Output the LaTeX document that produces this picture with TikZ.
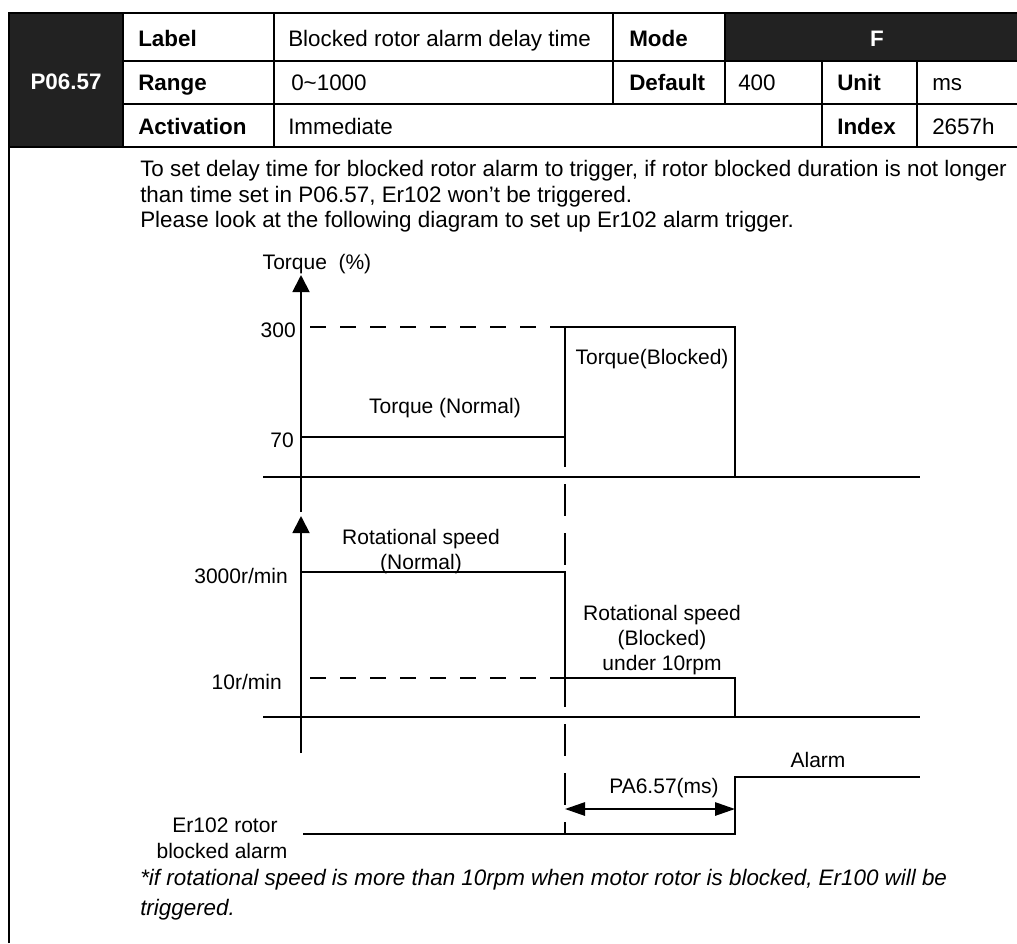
\documentclass[tikz,border=0pt]{standalone}
\usepackage{fontspec}
\setmainfont{Liberation Sans}
\usetikzlibrary{arrows.meta}
\definecolor{darkcell}{HTML}{222222}
\begin{document}
\begin{tikzpicture}[x=0.75pt,y=-0.75pt,
  tbl/.style={line width=1.6pt,draw=black},
  wave/.style={line width=1.4pt},
  shortdash/.style={wave,dash pattern=on 12pt off 10.5pt},
  markerdash/.style={wave,dash pattern=on 24pt off 12.75pt,dash phase=24pt},
  hd/.style={font=\fontsize{16.8}{20}\selectfont,inner sep=0pt,text height=12pt,text depth=0pt,anchor=west},
  hdb/.style={hd,font=\fontsize{16.8}{20}\selectfont\bfseries},
  hdw/.style={hdb,text=white,anchor=center},
  body/.style={hd},
  note/.style={hd,font=\fontsize{16.8}{20}\selectfont\itshape},
  dg/.style={font=\fontsize{15.75}{19}\selectfont,inner sep=0pt,text height=11.3pt,text depth=0pt},
  axisarrow/.style={wave,-{Triangle[length=12.75pt,width=12.75pt]}},
  dblarrow/.style={wave,{Triangle[length=15pt,width=10pt]}-{Triangle[length=15pt,width=10pt]}}
]
\useasboundingbox (0,0) rectangle (1017,943);
% ---------- table ----------
\fill[darkcell] (9,13) rectangle (123,147);
\fill[darkcell] (725,13) rectangle (1017,61);
\draw[tbl] (9,943) -- (9,13) -- (1017,13);
\draw[tbl] (123,61) -- (1017,61);
\draw[tbl] (123,104) -- (1017,104);
\draw[tbl] (9,147) -- (1017,147);
\draw[tbl] (123,13) -- (123,147);
\draw[tbl] (274,13) -- (274,147);
\draw[tbl] (613,13) -- (613,104);
\draw[tbl] (725,13) -- (725,104);
\draw[tbl] (822,61) -- (822,147);
\draw[tbl] (917,61) -- (917,147);
\node[hdw] (pid) at (66,81) {P06.57};
\node[hdb] (lab) at (138,38) {Label};
\node[hdb] (rng) at (138,82) {Range};
\node[hdb] (act) at (138,126) {Activation};
\node[hd] (labv) at (288,38) {Blocked rotor alarm delay time};
\node[hd] (rngv) at (291,82) {0\textasciitilde1000};
\node[hd] (actv) at (288,126) {Immediate};
\node[hdb] (mode) at (629,38) {Mode};
\node[hdw] (modev) at (877,38) {F};
\node[hdb] (def) at (629,82) {Default};
\node[hd] (defv) at (738,82) {400};
\node[hdb] (unit) at (837,82) {Unit};
\node[hd] (unitv) at (932,82) {ms};
\node[hdb] (idx) at (837,126) {Index};
\node[hd] (idxv) at (932,126) {2657h};
% ---------- body text ----------
\node[body] (b1) at (140,168) {To set delay time for blocked rotor alarm to trigger, if rotor blocked duration is not longer};
\node[body] (b2) at (140,194) {than time set in P06.57, Er102 won’t be triggered.};
\node[body] (b3) at (140,219) {Please look at the following diagram to set up Er102 alarm trigger.};
% ---------- coordinates ----------
\coordinate (tax0) at (301,512);
\coordinate (tax1) at (301,275);
\coordinate (sax0) at (301,753);
\coordinate (sax1) at (301,516);
\coordinate (tt0) at (263,477);
\coordinate (tt1) at (920,477);
\coordinate (st0) at (263,717);
\coordinate (st1) at (920,717);
% ---------- torque ----------
\draw[axisarrow] (tax0) -- (tax1);
\draw[wave] (tt0) -- (tt1);
\draw[shortdash] (310,327) -- (565,327);
\draw[wave] (301,437) -- (565,437) -- (565,327) -- (735,327) -- (735,477);
\draw[wave] (565,437) -- (565,467);
\draw[markerdash] (565,467) -- (565,572);
% ---------- speed ----------
\draw[axisarrow] (sax0) -- (sax1);
\draw[wave] (st0) -- (st1);
\draw[wave] (301,572) -- (565,572) -- (565,707);
\draw[shortdash] (310,678) -- (565,678);
\draw[wave] (565,678) -- (735,678) -- (735,717);
\draw[markerdash] (565,707) -- (565,834);
% ---------- alarm ----------
\draw[wave] (303,834) -- (735,834) -- (735,777) -- (920,777);
\coordinate (d0) at (565,809);
\coordinate (d1) at (735,809);
\draw[dblarrow] (d0) -- (d1);
% ---------- labels ----------
\node[dg] (tq) at (317,262) {Torque\ \ (\%)};
\node[dg,anchor=east] (l300) at (296,330) {300};
\node[dg,anchor=east] (l70) at (294,440) {70};
\node[dg] (tn) at (445,406) {Torque (Normal)};
\node[dg] (tb) at (652,357) {Torque(Blocked)};
\node[dg] (rs1) at (421,537) {Rotational speed};
\node[dg] (rs2) at (421,562) {(Normal)};
\node[dg,anchor=east] (l3000) at (288,576) {3000r/min};
\node[dg] (rb1) at (662,613) {Rotational speed};
\node[dg] (rb2) at (662,638) {(Blocked)};
\node[dg] (rb3) at (662,663) {under 10rpm};
\node[dg,anchor=east] (l10) at (282,682) {10r/min};
\node[dg] (alm) at (818,760) {Alarm};
\node[dg] (pa) at (664,786) {PA6.57(ms)};
\node[dg] (er1) at (225,825) {Er102 rotor};
\node[dg] (er2) at (222,851) {blocked alarm};
% ---------- footnote ----------
\node[note] (n1) at (140,877) {*if rotational speed is more than 10rpm when motor rotor is blocked, Er100 will be};
\node[note] (n2) at (140,907) {triggered.};
\end{tikzpicture}
\end{document}
